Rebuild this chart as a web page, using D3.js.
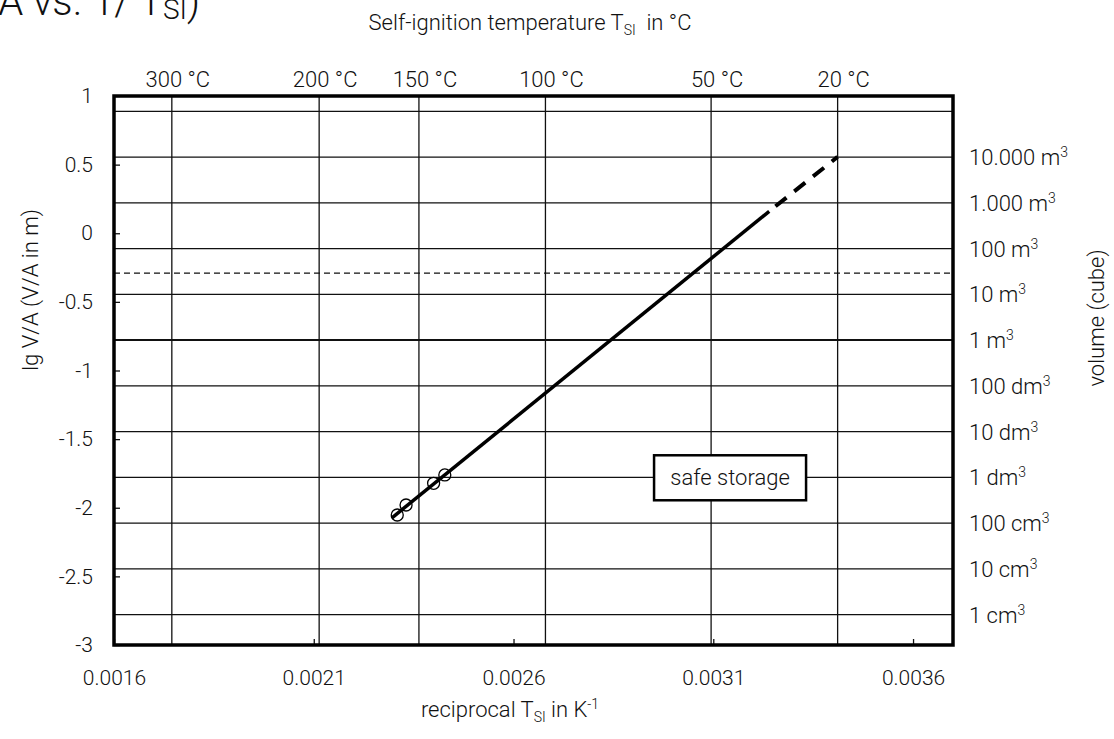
<!DOCTYPE html>
<html>
<head>
<meta charset="utf-8">
<script src="https://cdn.jsdelivr.net/npm/d3@7"></script>
<style>
  body { margin: 0; background: #fff; }
  svg { font-family: Roboto, "Open Sans", sans-serif; font-weight: 300; }
</style>
</head>
<body>
<div id="chart"></div>
<script>
// values
const xTicks = [0.0016, 0.0021, 0.0026, 0.0031, 0.0036];
const yTicks = [-3, -2.5, -2, -1.5, -1, -0.5, 0, 0.5, 1];
const tempsC = [300, 200, 150, 100, 50, 20];
// cube volumes in m3 (gridlines), label for each, last one has no label
const volumes = [1e-6, 1e-5, 1e-4, 1e-3, 1e-2, 1e-1, 1, 10, 100, 1000, 10000, 100000];
const volLabels = ['1 cm', '10 cm', '100 cm', '1 dm', '10 dm', '100 dm', '1 m', '10 m', '100 m', '1.000 m', '10.000 m', ''];
// measured points
const pointX = [0.002309, 0.002331, 0.002400, 0.002428];
const pointY = [-2.053, -1.980, -1.822, -1.761];
// regression line: solid part, then dashed extrapolation
const fitX = [0.002295, 0.003240, 0.003411];
const fitY = [-2.075, 0.160, 0.556];
const criticalLg = -0.29;
const safeLabel = { x: 0.003142, y: -1.778, text: 'safe storage' };

const W = 1114, H = 739;
const svg = d3.select('#chart').append('svg')
  .attr('width', W).attr('height', H);

const x = d3.scaleLinear().domain([0.0016, 0.0037]).range([114, 953]);
const y = d3.scaleLinear().domain([-3, 1]).range([645, 96]);

const lgVA = v => Math.log10(Math.cbrt(v) / 6);
const FS = 21;

// vertical grid at temperature positions
svg.append('g').selectAll('line')
  .data(tempsC)
  .join('line')
  .attr('x1', d => x(1 / (d + 273.15)))
  .attr('x2', d => x(1 / (d + 273.15)))
  .attr('y1', y(1)).attr('y2', y(-3))
  .attr('stroke', '#111').attr('stroke-width', 1.3);

// horizontal grid at cube volumes
svg.append('g').selectAll('line')
  .data(volumes)
  .join('line')
  .attr('x1', x.range()[0]).attr('x2', x.range()[1])
  .attr('y1', d => y(lgVA(d))).attr('y2', d => y(lgVA(d)))
  .attr('stroke', '#111')
  .attr('stroke-width', d => d === 1 ? 2 : 1.3);

// critical dashed line
svg.append('line')
  .attr('x1', x.range()[0]).attr('x2', x.range()[1])
  .attr('y1', y(criticalLg)).attr('y2', y(criticalLg))
  .attr('stroke', '#111').attr('stroke-width', 1.2)
  .attr('stroke-dasharray', '6,4');

// axes
const xAxis = svg.append('g')
  .attr('transform', `translate(0,${y(-3)})`)
  .call(d3.axisBottom(x).tickValues(xTicks).tickSize(-6).tickPadding(25)
    .tickFormat(d => String(d)));
const yAxis = svg.append('g')
  .attr('transform', `translate(${x(0.0016)},0)`)
  .call(d3.axisLeft(y).tickValues(yTicks).tickSize(-6).tickPadding(21)
    .tickFormat(d => String(d)));
[xAxis, yAxis].forEach(a => {
  a.select('.domain').remove();
  a.selectAll('line').attr('stroke', '#111').attr('stroke-width', 1.3);
  a.selectAll('text').attr('font-size', FS).attr('fill', '#111')
    .attr('font-family', 'Roboto, sans-serif');
});

// frame
svg.append('rect')
  .attr('x', x.range()[0]).attr('y', y(1))
  .attr('width', x.range()[1] - x.range()[0])
  .attr('height', y(-3) - y(1))
  .attr('fill', 'none').attr('stroke', '#000').attr('stroke-width', 3.5);

// regression line
const line = d3.line().x(d => x(d[0])).y(d => y(d[1]));
svg.append('path')
  .attr('d', line([[fitX[0], fitY[0]], [fitX[1], fitY[1]]]))
  .attr('stroke', '#000').attr('stroke-width', 3.5).attr('fill', 'none');
svg.append('path')
  .attr('d', line([[fitX[1], fitY[1]], [fitX[2], fitY[2]]]))
  .attr('stroke', '#000').attr('stroke-width', 4).attr('fill', 'none')
  .attr('stroke-dasharray', '0,8,14,10,14,10,14,10,14');

// measured points
svg.append('g').selectAll('circle')
  .data(pointX.map((v, i) => [v, pointY[i]]))
  .join('circle')
  .attr('cx', d => x(d[0])).attr('cy', d => y(d[1]))
  .attr('r', 6)
  .attr('fill', 'none').attr('stroke', '#000').attr('stroke-width', 1.3);

// safe storage label
const sg = svg.append('g')
  .attr('transform', `translate(${x(safeLabel.x)},${y(safeLabel.y)})`);
sg.append('rect')
  .attr('x', -76).attr('y', -22).attr('width', 152).attr('height', 45)
  .attr('fill', '#fff').attr('stroke', '#000').attr('stroke-width', 2.5);
sg.append('text')
  .attr('text-anchor', 'middle').attr('dy', 8)
  .attr('font-size', 22).attr('fill', '#111')
  .text(safeLabel.text);

// temperature labels (top)
svg.append('g').selectAll('text')
  .data(tempsC)
  .join('text')
  .attr('x', d => x(1 / (d + 273.15)) + 6)
  .attr('y', 87)
  .attr('text-anchor', 'middle')
  .attr('font-size', 22).attr('fill', '#111')
  .text(d => `${d} °C`);

// volume labels (right)
const vl = svg.append('g').selectAll('text')
  .data(volumes.filter((d, i) => volLabels[i] !== ''))
  .join('text')
  .attr('x', 969)
  .attr('y', d => y(lgVA(d)) + 8)
  .attr('font-size', 22).attr('fill', '#111');
vl.append('tspan').text((d, i) => volLabels[i]);
vl.append('tspan').attr('font-size', 14).attr('dy', -8).text('3');

// axis titles
const topTitle = svg.append('text')
  .attr('x', 530).attr('y', 30).attr('text-anchor', 'middle')
  .attr('font-size', 22).attr('fill', '#111');
topTitle.append('tspan').text('Self-ignition temperature T');
topTitle.append('tspan').attr('font-size', 14).attr('dy', 5).text('SI');
topTitle.append('tspan').attr('dy', -5).text('\u00a0 in °C');

const bottomTitle = svg.append('text')
  .attr('x', 510).attr('y', 717).attr('text-anchor', 'middle')
  .attr('font-size', 22).attr('fill', '#111');
bottomTitle.append('tspan').text('reciprocal T');
bottomTitle.append('tspan').attr('font-size', 14).attr('dy', 5).text('SI');
bottomTitle.append('tspan').attr('dy', -5).text(' in K');
bottomTitle.append('tspan').attr('font-size', 14).attr('dy', -8).text('-1');

svg.append('text')
  .attr('transform', 'translate(38,290) rotate(-90)')
  .attr('text-anchor', 'middle')
  .attr('font-size', 22).attr('fill', '#111')
  .text('lg V/A (V/A in m)');

svg.append('text')
  .attr('transform', 'translate(1104,318) rotate(-90)')
  .attr('text-anchor', 'middle')
  .attr('font-size', 22).attr('fill', '#111')
  .text('volume (cube)');

// heading, cut off at the top edge
const head = svg.append('text')
  .attr('x', 200).attr('y', 15).attr('text-anchor', 'end')
  .attr('font-size', 40).attr('fill', '#111');
head.append('tspan').text('lg V/A vs. 1/ T');
head.append('tspan').attr('font-size', 28).attr('dy', 4).text('SI');
head.append('tspan').attr('dy', -4).text(')');
</script>
</body>
</html>
